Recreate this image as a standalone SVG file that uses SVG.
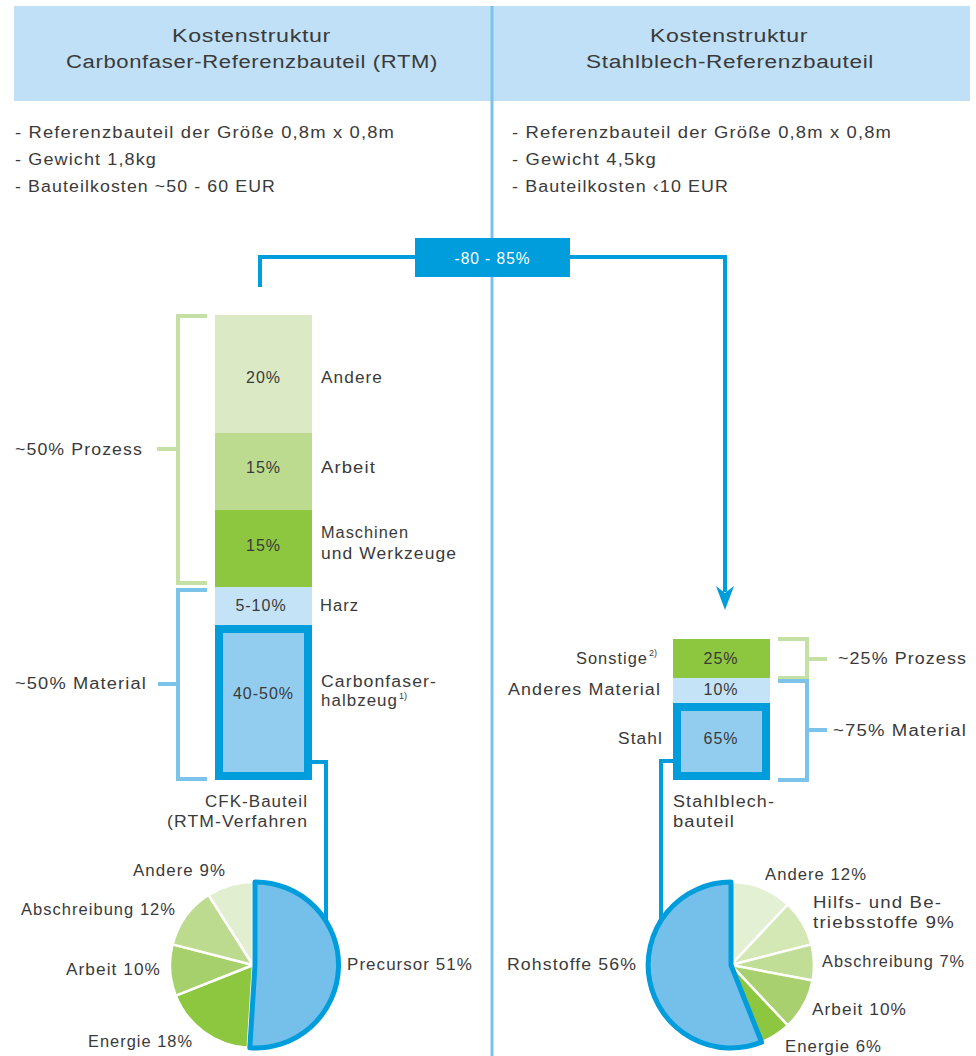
<svg xmlns="http://www.w3.org/2000/svg" width="976" height="1056" viewBox="0 0 976 1056">
<defs>
<style>
text{font-family:"Liberation Sans","DejaVu Sans",sans-serif;fill:#3a3a3a;font-size:16px;letter-spacing:1px}
.h{font-size:18px;letter-spacing:0.5px}
.c{text-anchor:middle}
.sup{font-size:9px;letter-spacing:0}
.conn{fill:none;stroke:#009ddc;stroke-width:4}
.bg{fill:none;stroke:#c5e0a5;stroke-width:4}
.bb{fill:none;stroke:#7cc3ea;stroke-width:4}
.ps{stroke:#fff;stroke-width:2.5}
</style>
</defs>
<rect width="976" height="1056" fill="#fff"/>
<g id="header">
<rect x="14" y="6" width="956" height="95" fill="#bfe0f6"/>
<text class="h" x="172" y="42" textLength="159" lengthAdjust="spacingAndGlyphs">Kostenstruktur</text>
<text class="h" x="66" y="68" textLength="372" lengthAdjust="spacingAndGlyphs">Carbonfaser-Referenzbauteil (RTM)</text>
<text class="h" x="650" y="42" textLength="158" lengthAdjust="spacingAndGlyphs">Kostenstruktur</text>
<text class="h" x="586" y="68" textLength="288" lengthAdjust="spacingAndGlyphs">Stahlblech-Referenzbauteil</text>
</g>
<line id="divider" x1="492" y1="6" x2="492" y2="1056" stroke="#7cc3ea" stroke-width="3"/>
<g id="bullets-left">
<text x="15" y="138" textLength="380" lengthAdjust="spacingAndGlyphs">- Referenzbauteil der Größe 0,8m x 0,8m</text>
<text x="15" y="165" textLength="142" lengthAdjust="spacingAndGlyphs">- Gewicht 1,8kg</text>
<text x="15" y="192" textLength="261" lengthAdjust="spacingAndGlyphs">- Bauteilkosten ~50 - 60 EUR</text>
</g>
<g id="bullets-right">
<text x="512" y="138" textLength="380" lengthAdjust="spacingAndGlyphs">- Referenzbauteil der Größe 0,8m x 0,8m</text>
<text x="512" y="165" textLength="145" lengthAdjust="spacingAndGlyphs">- Gewicht 4,5kg</text>
<text x="512" y="192" textLength="217" lengthAdjust="spacingAndGlyphs">- Bauteilkosten ‹10 EUR</text>
</g>
<g id="connectors">
<polyline class="conn" points="260,287 260,257 725,257 725,592"/>
<path d="M725,610 L716,586 L725,593 L734,586 Z" fill="#009ddc"/>
<polyline class="conn" points="312,762 326,762 326,923"/>
<polyline class="conn" points="673,761 661,761 661,923"/>
</g>
<g id="reduction-label">
<rect x="415" y="238" width="155" height="39" fill="#009ddc"/>
<text x="492.5" y="264" class="c" style="fill:#fff" textLength="76" lengthAdjust="spacingAndGlyphs">-80 - 85%</text>
</g>
<g id="bar-cfk">
<rect x="215" y="315" width="97" height="118" fill="#dbeac4"/>
<rect x="215" y="433" width="97" height="77" fill="#bddb8f"/>
<rect x="215" y="510" width="97" height="77" fill="#8dc63f"/>
<rect x="215" y="587" width="97" height="38" fill="#c5e3f6"/>
<rect x="219" y="629" width="89" height="147" fill="#92cdf0" stroke="#009ddc" stroke-width="8"/>
<text x="263.5" y="383" class="c">20%</text>
<text x="263.5" y="473" class="c">15%</text>
<text x="263.5" y="551" class="c">15%</text>
<text x="261" y="611" class="c">5-10%</text>
<text x="263.5" y="699" class="c">40-50%</text>
<text x="321" y="383" textLength="62" lengthAdjust="spacingAndGlyphs">Andere</text>
<text x="321" y="473" textLength="55" lengthAdjust="spacingAndGlyphs">Arbeit</text>
<text x="321" y="538" textLength="88" lengthAdjust="spacingAndGlyphs">Maschinen</text>
<text x="321" y="559" textLength="136" lengthAdjust="spacingAndGlyphs">und Werkzeuge</text>
<text x="320" y="611" textLength="39" lengthAdjust="spacingAndGlyphs">Harz</text>
<text x="321" y="687" textLength="116" lengthAdjust="spacingAndGlyphs">Carbonfaser-</text>
<text x="321" y="706" textLength="77" lengthAdjust="spacingAndGlyphs">halbzeug</text>
<text x="399" y="699" class="sup">1)</text>
<text x="205" y="807" textLength="103" lengthAdjust="spacingAndGlyphs">CFK-Bauteil</text>
<text x="167" y="827" textLength="141" lengthAdjust="spacingAndGlyphs">(RTM-Verfahren</text>
</g>
<g id="brackets-left">
<polyline class="bg" points="207,316 178,316 178,583 207,583"/>
<line class="bg" x1="157" y1="449" x2="178" y2="449"/>
<polyline class="bb" points="207,590 178,590 178,779 207,779"/>
<line class="bb" x1="158" y1="684" x2="178" y2="684"/>
<text x="15" y="455" textLength="128" lengthAdjust="spacingAndGlyphs">~50% Prozess</text>
<text x="15" y="689" textLength="132" lengthAdjust="spacingAndGlyphs">~50% Material</text>
</g>
<g id="bar-stahl">
<rect x="673" y="639" width="97" height="39" fill="#8dc63f"/>
<rect x="673" y="678" width="97" height="25" fill="#c5e3f6"/>
<rect x="677" y="707" width="89" height="69" fill="#92cdf0" stroke="#009ddc" stroke-width="8"/>
<text x="721" y="664" class="c">25%</text>
<text x="721" y="695" class="c">10%</text>
<text x="721" y="744" class="c">65%</text>
<text x="576" y="664" textLength="72" lengthAdjust="spacingAndGlyphs">Sonstige</text>
<text x="649" y="656" class="sup">2)</text>
<text x="508" y="695" textLength="153" lengthAdjust="spacingAndGlyphs">Anderes Material</text>
<text x="618" y="744" textLength="45" lengthAdjust="spacingAndGlyphs">Stahl</text>
<text x="673" y="807" textLength="102" lengthAdjust="spacingAndGlyphs">Stahlblech-</text>
<text x="673" y="827" textLength="62" lengthAdjust="spacingAndGlyphs">bauteil</text>
</g>
<g id="brackets-right">
<polyline class="bg" points="778,639 807,639 807,678 778,678"/>
<line class="bg" x1="807" y1="659" x2="827" y2="659"/>
<polyline class="bb" points="778,681 807,681 807,780 778,780"/>
<line class="bb" x1="807" y1="730" x2="827" y2="730"/>
<text x="838" y="664" textLength="129" lengthAdjust="spacingAndGlyphs">~25% Prozess</text>
<text x="833" y="736" textLength="134" lengthAdjust="spacingAndGlyphs">~75% Material</text>
</g>
<g id="pie-cfk">
<path class="ps" d="M253,965 L247.8,1047.8 A83,83 0 0,1 175.8,995.6 Z" fill="#8dc63f"/>
<path class="ps" d="M253,965 L175.8,995.6 A83,83 0 0,1 172.6,944.4 Z" fill="#a6d06b"/>
<path class="ps" d="M253,965 L172.6,944.4 A83,83 0 0,1 208.5,894.9 Z" fill="#bddb8f"/>
<path class="ps" d="M253,965 L208.5,894.9 A83,83 0 0,1 253,882 Z" fill="#e1efd0"/>
<path d="M255,965 L255,882 A83,83 0 1,1 249.8,1047.8 Z" fill="#74c0ea" stroke="#009ddc" stroke-width="5" stroke-linejoin="round"/>
<text x="133" y="876" textLength="93" lengthAdjust="spacingAndGlyphs">Andere 9%</text>
<text x="21" y="915" textLength="155" lengthAdjust="spacingAndGlyphs">Abschreibung 12%</text>
<text x="66" y="975" textLength="95" lengthAdjust="spacingAndGlyphs">Arbeit 10%</text>
<text x="88" y="1047" textLength="105" lengthAdjust="spacingAndGlyphs">Energie 18%</text>
<text x="347" y="970" textLength="126" lengthAdjust="spacingAndGlyphs">Precursor 51%</text>
</g>
<g id="pie-stahl">
<path class="ps" d="M731,965 L731,882 A83,83 0 0,1 787.8,904.5 Z" fill="#e3f0d3"/>
<path class="ps" d="M731,965 L787.8,904.5 A83,83 0 0,1 811.4,944.4 Z" fill="#d3e8b5"/>
<path class="ps" d="M731,965 L811.4,944.4 A83,83 0 0,1 812.5,980.6 Z" fill="#c1de96"/>
<path class="ps" d="M731,965 L812.5,980.6 A83,83 0 0,1 787.8,1025.5 Z" fill="#a8d06e"/>
<path class="ps" d="M731,965 L787.8,1025.5 A83,83 0 0,1 761.6,1042.2 Z" fill="#8dc63f"/>
<path d="M731,965 L761.6,1042.2 A83,83 0 1,1 731,882 Z" fill="#74c0ea" stroke="#009ddc" stroke-width="5" stroke-linejoin="round"/>
<text x="765" y="880" textLength="102" lengthAdjust="spacingAndGlyphs">Andere 12%</text>
<text x="813" y="908" textLength="129" lengthAdjust="spacingAndGlyphs">Hilfs- und Be-</text>
<text x="813" y="928" textLength="142" lengthAdjust="spacingAndGlyphs">triebsstoffe 9%</text>
<text x="822" y="967" textLength="143" lengthAdjust="spacingAndGlyphs">Abschreibung 7%</text>
<text x="812" y="1015" textLength="95" lengthAdjust="spacingAndGlyphs">Arbeit 10%</text>
<text x="785" y="1052" textLength="97" lengthAdjust="spacingAndGlyphs">Energie 6%</text>
<text x="507" y="970" textLength="130" lengthAdjust="spacingAndGlyphs">Rohstoffe 56%</text>
</g>
</svg>
